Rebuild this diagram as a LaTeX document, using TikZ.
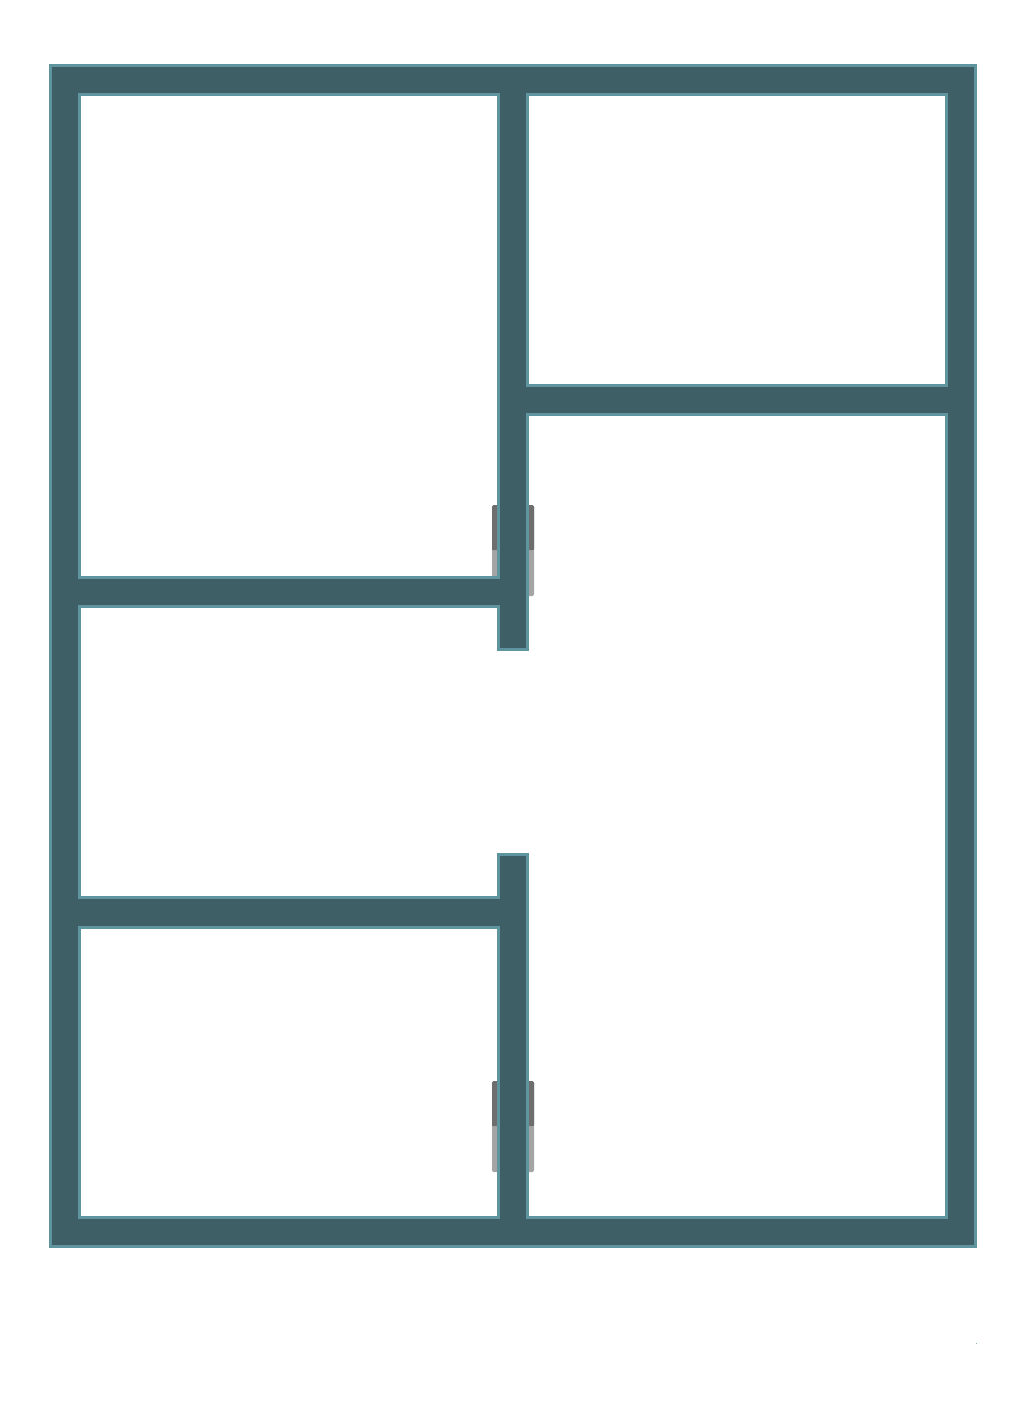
\documentclass[tikz,border=0pt]{standalone}
\usepackage{xcolor}
\definecolor{wallfill}{HTML}{3F5F66}
\definecolor{walledge}{HTML}{5F959E}
\definecolor{doordark}{HTML}{6E6E6E}
\definecolor{doorlight}{HTML}{A5A5A5}

\begin{document}
\begin{tikzpicture}[
  x=0.01cm, y=-0.01cm,
  wall/.style={fill=wallfill, draw=walledge, line width=0.03cm, even odd rule, line join=miter},
  door/.style={rounded corners=0.015cm}
]

% Parameters (in pixel units of the plan)
\def\XA{50.5}    % outer left
\def\XB{79.5}    % inner left
\def\XC{498.5}   % middle wall, left face
\def\XD{527.5}   % middle wall, right face
\def\XE{946.5}   % inner right
\def\XF{975.5}   % outer right
\def\YA{65.5}    % outer top
\def\YB{94.5}    % inner top
\def\YG{1217.5}  % inner bottom
\def\YH{1246.5}  % outer bottom

\useasboundingbox (0,0) rectangle (1025,1408);

% --- Door leaves, behind the middle wall ---
\foreach \Y in {505,1081}{
  \fill[doorlight, door] (492,\Y) rectangle (534,{\Y+91});
  \fill[doordark, door] (492,\Y) rectangle (534,{\Y+45});
  \fill[doordark] (492,{\Y+20}) rectangle (534,{\Y+45});
}

% --- Walls: outer outline with the rooms cut out ---
\draw[wall]
  (\XA,\YA) rectangle (\XF,\YH)
  % upper left room
  (\XB,\YB) rectangle (\XC,577.5)
  % upper right room
  (\XD,\YB) rectangle (\XE,385.5)
  % lower left room
  (\XB,927) rectangle (\XC,\YG)
  % hall and large room
  (\XB,606.5) -- (\XC,606.5) -- (\XC,649.5) -- (\XD,649.5) -- (\XD,414.5)
  -- (\XE,414.5) -- (\XE,\YG) -- (\XD,\YG) -- (\XD,854.5) -- (\XC,854.5)
  -- (\XC,897.5) -- (\XB,897.5) -- cycle;

% --- Stray dot at the lower right ---
\fill[walledge!70] (976,1343) rectangle (977,1344);

\end{tikzpicture}
\end{document}
